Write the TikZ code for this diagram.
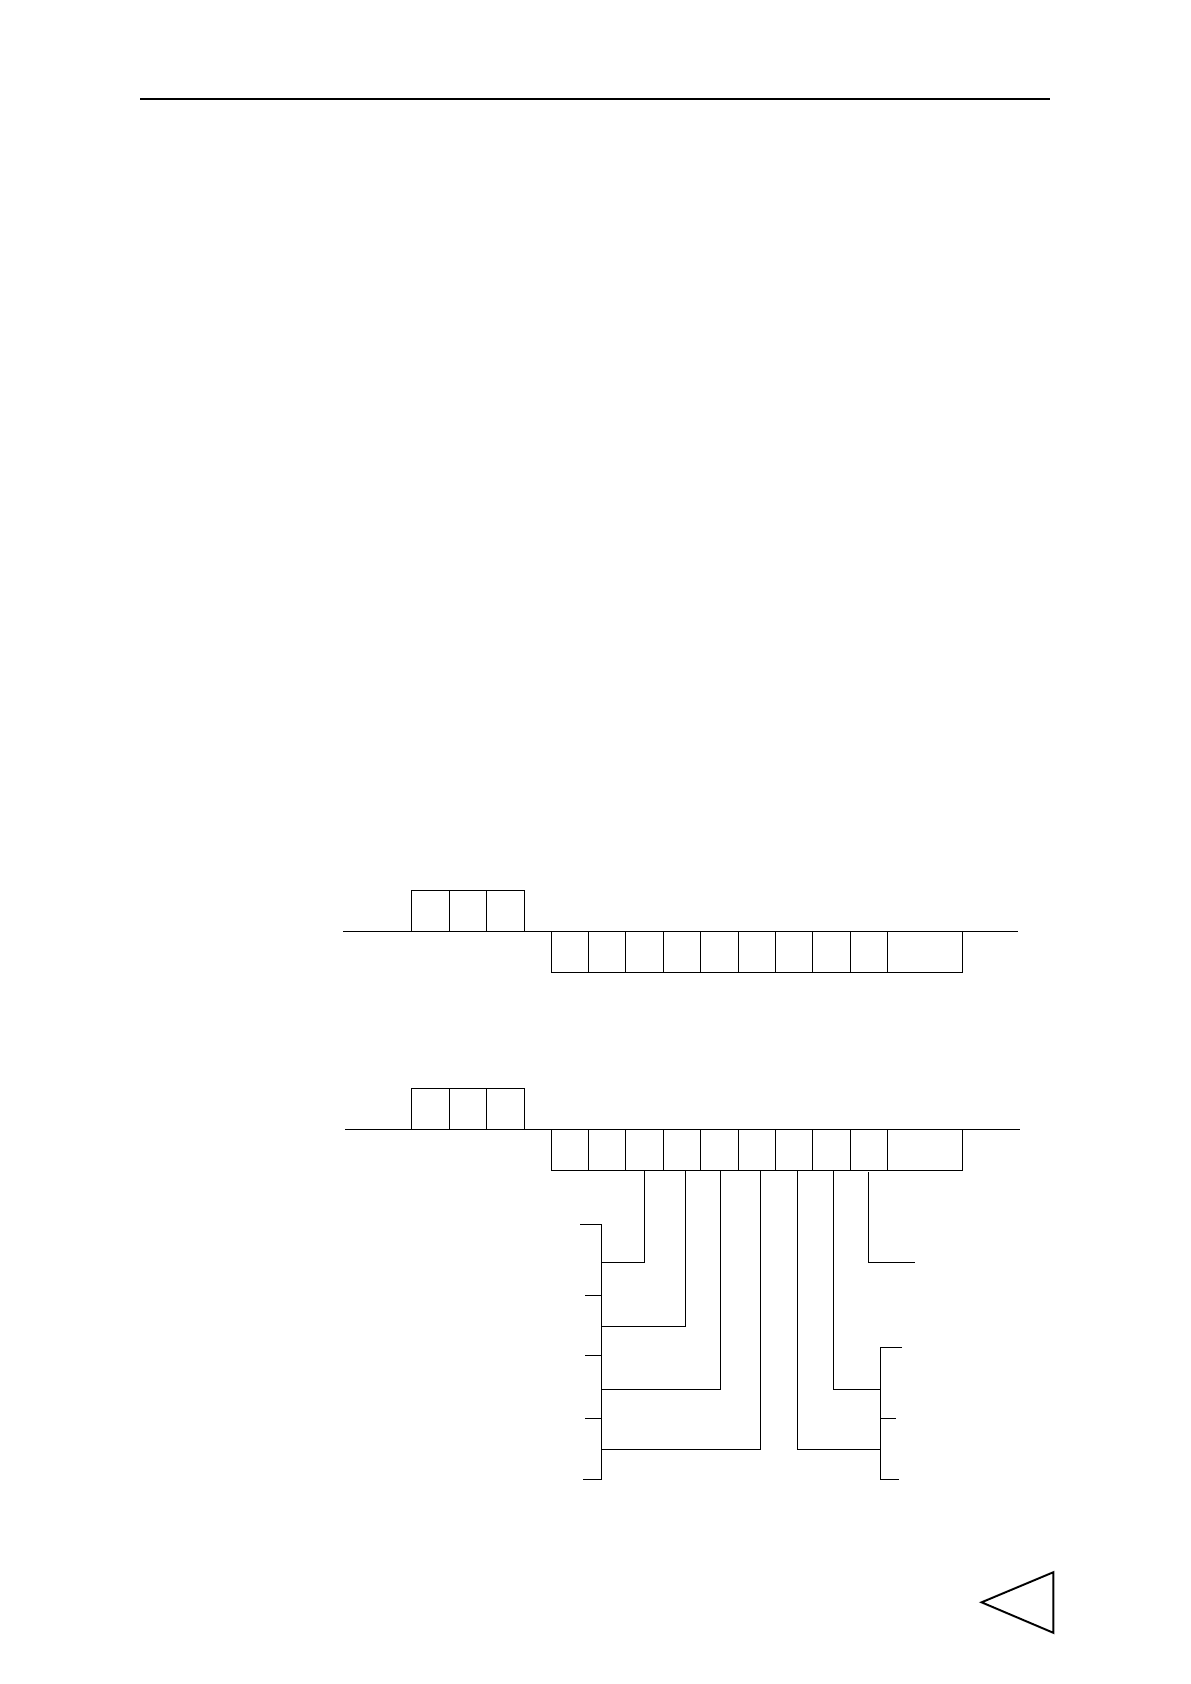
\documentclass[tikz,border=0pt]{standalone}
\usepackage{tikz}
\usetikzlibrary{positioning}
\tikzset{cell/.style={draw,rectangle,minimum width=18.7pt,minimum height=20.5pt,inner sep=0pt,outer sep=0pt,line width=0.5pt},
  widecell/.style={cell,minimum width=37.4pt},
  wire/.style={line width=0.5pt}}

\begin{document}
\begin{tikzpicture}[x=0.5pt,y=-0.5pt]
%
\useasboundingbox (0,0) rectangle (1190,1684);
%
\coordinate (ruleL) at (140,99);
\coordinate (ruleR) at (1050,99);
\draw[line width=1pt] (ruleL) -- (ruleR);
%
% first row
\coordinate (a0) at (343,931);
\coordinate (a1) at (1018,931);
\draw[wire] (a0) -- (a1);
\node[cell] (au1) at (430.5,910.5) {};
\node[cell] (au2) at (467.9,910.5) {};
\node[cell] (au3) at (505.3,910.5) {};
\node[cell] (al1) at (569.7,952) {};
\node[cell] (al2) at (607.1,952) {};
\node[cell] (al3) at (644.5,952) {};
\node[cell] (al4) at (681.9,952) {};
\node[cell] (al5) at (719.3,952) {};
\node[cell] (al6) at (756.7,952) {};
\node[cell] (al7) at (794.1,952) {};
\node[cell] (al8) at (831.5,952) {};
\node[cell] (al9) at (868.9,952) {};
\node[widecell] (al10) at (925,952) {};
%
% second row
\coordinate (b0) at (345,1129);
\coordinate (b1) at (1020,1129);
\draw[wire] (b0) -- (b1);
\node[cell] (bu1) at (430.5,1108.5) {};
\node[cell] (bu2) at (467.9,1108.5) {};
\node[cell] (bu3) at (505.3,1108.5) {};
\node[cell] (bl1) at (569.7,1149.5) {};
\node[cell] (bl2) at (607.1,1149.5) {};
\node[cell] (bl3) at (644.5,1149.5) {};
\node[cell] (bl4) at (681.9,1149.5) {};
\node[cell] (bl5) at (719.3,1149.5) {};
\node[cell] (bl6) at (756.7,1149.5) {};
\node[cell] (bl7) at (794.1,1149.5) {};
\node[cell] (bl8) at (831.5,1149.5) {};
\node[cell] (bl9) at (868.9,1149.5) {};
\node[widecell] (bl10) at (925,1149.5) {};
%
% left bracket
\coordinate (lt1) at (580,1224);
\coordinate (lt2) at (585,1295);
\coordinate (lt3) at (585,1355);
\coordinate (lt4) at (585,1418);
\coordinate (lt5) at (583,1479);
\coordinate (lbtop) at (601,1224);
\coordinate (lbbot) at (601,1479);
\coordinate (lj1) at (601,1262);
\coordinate (lj2) at (601,1326);
\coordinate (lj3) at (601,1389);
\coordinate (lj4) at (601,1449);
\draw[wire] (lt1) -- (lbtop) -- (lbbot) -- (lt5);
\draw[wire] (lt2) -- (lt2 -| lbtop);
\draw[wire] (lt3) -- (lt3 -| lbtop);
\draw[wire] (lt4) -- (lt4 -| lbtop);
%
% right bracket
\coordinate (rt1) at (902,1347);
\coordinate (rt2) at (896,1418);
\coordinate (rt3) at (899,1479);
\coordinate (rbtop) at (880,1347);
\coordinate (rbbot) at (880,1479);
\coordinate (rj1) at (880,1389);
\coordinate (rj2) at (880,1449);
\draw[wire] (rt1) -- (rbtop) -- (rbbot) -- (rt3);
\draw[wire] (rt2 -| rbtop) -- (rt2);
%
% taps
\coordinate (gend) at (915,1262);
\draw[wire] (bl3.south) |- (lj1);
\draw[wire] ([xshift=1.7pt]bl4.south) |- (lj2);
\draw[wire] ([xshift=0.5pt]bl5.south) |- (lj3);
\draw[wire] ([xshift=1.8pt]bl6.south) |- (lj4);
\draw[wire] ([xshift=1.6pt]bl7.south) |- (rj2);
\draw[wire] ([xshift=1.1pt]bl8.south) |- (rj1);
\draw[wire] ([yshift=-1pt]bl9.south) |- (gend);
%
% page mark
\coordinate (tri1) at (981.7,1602.3);
\coordinate (tri2) at (1053.3,1572.3);
\coordinate (tri3) at (1053.3,1632.7);
\draw[line width=1.2pt,black!35,shift={(3,3)}] (tri1) -- (tri2) -- (tri3) -- cycle;
\draw[line width=0.9pt,fill=white] (tri1) -- (tri2) -- (tri3) -- cycle;
%
\end{tikzpicture}
\end{document}
